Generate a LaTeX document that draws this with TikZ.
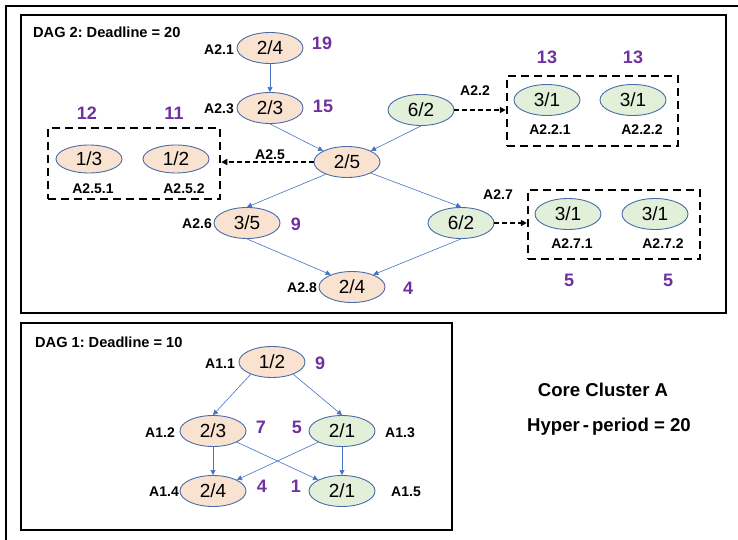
\documentclass[tikz,border=0pt]{standalone}
\usepackage{fontspec}
\setmainfont{Liberation Sans}
\usetikzlibrary{shapes.geometric,arrows.meta}
\frenchspacing

\definecolor{peach}{HTML}{F9E2D0}
\definecolor{mint}{HTML}{E2EFD9}
\definecolor{linkblue}{HTML}{4472C4}
\definecolor{rimblue}{HTML}{4A6DAA}
\definecolor{prio}{HTML}{7030A0}

\tikzset{
  task/.style={ellipse, draw=rimblue, line width=0.9pt, minimum width=66pt,
    minimum height=31pt, inner sep=0pt, font=\fontsize{19}{19}\selectfont},
  cpu/.style={task, fill=peach},
  gpu/.style={task, fill=mint},
  tag/.style={font=\bfseries\fontsize{14}{15}\selectfont, inner sep=0pt},
  title/.style={font=\bfseries\fontsize{14.6}{15}\selectfont, inner sep=0pt, anchor=west},
  prionum/.style={font=\bfseries\fontsize{18}{18}\selectfont, text=prio, inner sep=0pt},
  dep/.style={draw=linkblue, line width=0.6pt, -{Triangle[length=5pt,width=5pt]}},
  spawn/.style={draw=black, line width=1.5pt, dash pattern=on 4.5pt off 3.5pt,
    -{Triangle[length=6pt,width=6pt]}},
  group/.style={rectangle, draw=black, line width=2.5pt, dash pattern=on 8pt off 5pt,
    inner sep=0pt},
  panel/.style={draw=black, line width=2.5pt},
  info/.style={font=\bfseries\fontsize{18.6}{20}\selectfont, inner sep=0pt},
}

\begin{document}
\begin{tikzpicture}[x=1pt,y=-1pt]
\useasboundingbox (0,0) rectangle (738,540);

% outer frame (runs off the page on the right and bottom)
\draw[line width=2pt] (6,540) -- (6,6) -- (738,6);

% panels
\draw[panel] (21,15) rectangle (726,313);
\draw[panel] (21,323) rectangle (452,530);

% ---------------- DAG 2 ----------------
\node[title] (t2) at (33,32) {DAG 2: Deadline = 20};

\node[cpu] (a21) at (270,48) {2/4};
\node[cpu] (a23) at (270,108) {2/3};
\node[gpu] (a22) at (421,110) {6/2};
\node[cpu] (a25) at (347,162) {2/5};
\node[cpu] (a26) at (247,223) {3/5};
\node[gpu] (a27) at (461,223) {6/2};
\node[cpu] (a28) at (352,287) {2/4};

\node[tag] (l21) at (219,50) {A2.1};
\node[tag] (l23) at (219,109) {A2.3};
\node[tag] (l26) at (197,224) {A2.6};
\node[tag] (l28) at (302,288) {A2.8};
\node[tag] (l25) at (270,155) {A2.5};
\node[tag] (l22) at (475,91) {A2.2};
\node[tag] (l27) at (498,195) {A2.7};

\node[prionum] (p21) at (322,43) {19};
\node[prionum] (p23) at (323,106) {15};
\node[prionum] (p26) at (296,224) {9};
\node[prionum] (p28) at (408,288) {4};

% sub-task group of A2.5
\node[group, minimum width=172pt, minimum height=71pt] (g25) at (134,163.5) {};
\node[cpu, minimum height=28pt] (a251) at (89,159) {1/3};
\node[cpu, minimum height=28pt] (a252) at (176,159) {1/2};
\node[tag] (l251) at (93,189) {A2.5.1};
\node[tag] (l252) at (184,189) {A2.5.2};
\node[prionum] (p251) at (87,113) {12};
\node[prionum] (p252) at (174,113) {11};

% sub-task group of A2.2
\node[group, minimum width=171pt, minimum height=70pt] (g22) at (592.5,111) {};
\node[gpu] (a221) at (547,100) {3/1};
\node[gpu] (a222) at (633,100) {3/1};
\node[tag] (l221) at (550,130) {A2.2.1};
\node[tag] (l222) at (642,130) {A2.2.2};
\node[prionum] (p221) at (547,57) {13};
\node[prionum] (p222) at (633,57) {13};

% sub-task group of A2.7
\node[group, minimum width=172pt, minimum height=69pt] (g27) at (614,224.5) {};
\node[gpu] (a271) at (568,214) {3/1};
\node[gpu] (a272) at (655,214) {3/1};
\node[tag] (l271) at (572,244) {A2.7.1};
\node[tag] (l272) at (663,244) {A2.7.2};
\node[prionum] (p271) at (569,280) {5};
\node[prionum] (p272) at (668,280) {5};

% dependencies
\draw[dep] (a21) -- (a23);
\draw[dep] (a23.south) -- (a25.155);
\draw[dep] (a22.south) -- (a25.25);
\draw[dep] (a25.210) -- (a26.north);
\draw[dep] (a25.-25) -- (a27.north);
\draw[dep] (a26.south) -- (a28.150);
\draw[dep] (a27.south) -- (a28.30);

% spawned sub-tasks
\draw[spawn] (a25.west) -- (a25.west -| g25.east);
\draw[spawn] (a22.east) -- (a22.east -| g22.west);
\draw[spawn] (a27.east) -- (a27.east -| g27.west);

% ---------------- DAG 1 ----------------
\node[title] (t1) at (35,342) {DAG 1: Deadline = 10};

\node[cpu] (a11) at (272,362) {1/2};
\node[cpu] (a12) at (213,431) {2/3};
\node[gpu] (a13) at (342,431) {2/1};
\node[cpu] (a14) at (213,491) {2/4};
\node[gpu] (a15) at (342,491) {2/1};

\node[tag] (l11) at (220,364) {A1.1};
\node[tag] (l12) at (160,433) {A1.2};
\node[tag] (l13) at (400,433) {A1.3};
\node[tag] (l14) at (164,492) {A1.4};
\node[tag] (l15) at (406,492) {A1.5};

\node[prionum] (p11) at (320,363) {9};
\node[prionum] (p12) at (261,427) {7};
\node[prionum] (p13) at (297,427) {5};
\node[prionum] (p14) at (262,486) {4};
\node[prionum] (p15) at (296,486) {1};

\draw[dep] (a11.210) -- (a12.north);
\draw[dep] (a11.-30) -- (a13.north);
\draw[dep] (a12) -- (a14);
\draw[dep] (a13) -- (a15);
\draw[dep] (a12.-25) -- (a15.155);
\draw[dep] (a13.205) -- (a14.25);

% ---------------- cluster info ----------------
\node[info] (cl) at (603,390) {Core Cluster A};
\node[info] (hp) at (609,427) {Hyper\kern3pt-\kern3pt period = 20};
\end{tikzpicture}
\end{document}
